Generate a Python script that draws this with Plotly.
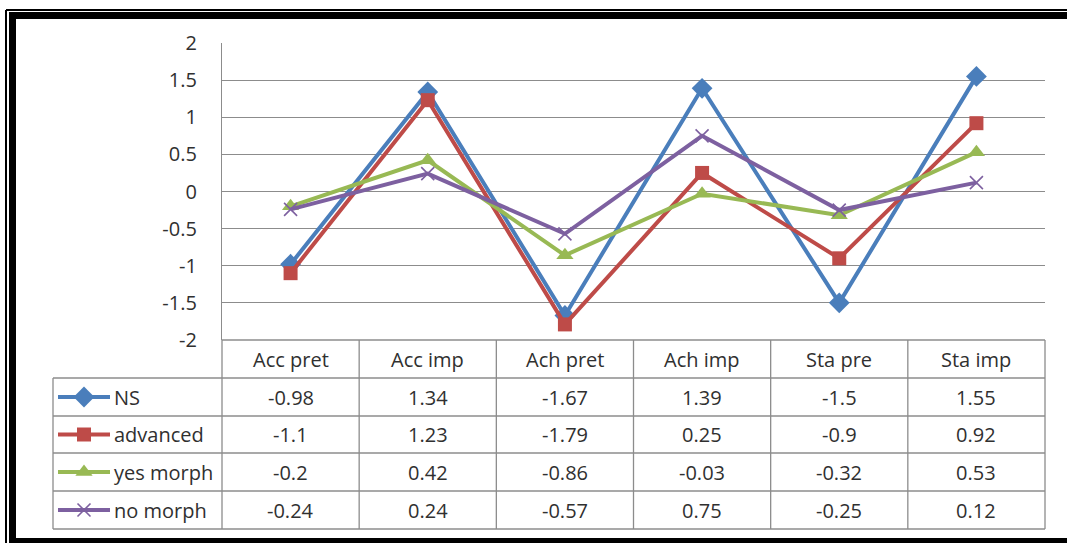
import plotly.graph_objects as go

# Categories and series values
categories = ["Acc pret", "Acc imp", "Ach pret", "Ach imp", "Sta pre", "Sta imp"]
series_names = ["NS", "advanced", "yes morph", "no morph"]
ns = [-0.98, 1.34, -1.67, 1.39, -1.5, 1.55]
advanced = [-1.1, 1.23, -1.79, 0.25, -0.9, 0.92]
yes_morph = [-0.2, 0.42, -0.86, -0.03, -0.32, 0.53]
no_morph = [-0.24, 0.24, -0.57, 0.75, -0.25, 0.12]
y_ticks = [2, 1.5, 1, 0.5, 0, -0.5, -1, -1.5, -2]

W, H = 1067, 543
FONT = "Open Sans"
FSIZE = 20
TXT = "#303030"
GRID = "#8c8c8c"

styles = [
    dict(color="#4a7ebb", symbol="diamond", size=16, lw=0),
    dict(color="#be4b48", symbol="square", size=14, lw=0),
    dict(color="#98b954", symbol="triangle-up", size=15, lw=0),
    dict(color="#7d60a0", symbol="x-thin", size=13, lw=1.6),
]
values = [ns, advanced, yes_morph, no_morph]

# plot area and table geometry (pixels)
PL, PR, PT, PB = 222, 1045, 43, 340
row_edges = [340, 378, 416, 453, 491, 529]
TL = 53
ncat = len(categories)
col_w = (PR - PL) / ncat
col_edges = [PL + i * col_w for i in range(ncat + 1)]

fig = go.Figure()

for name, vals, st in zip(series_names, values, styles):
    fig.add_trace(go.Scatter(
        x=categories, y=vals, mode="lines+markers", name=name,
        line=dict(color=st["color"], width=4),
        marker=dict(symbol=st["symbol"], size=st["size"], color=st["color"],
                    line=dict(color=st["color"], width=st["lw"])),
        xaxis="x", yaxis="y", showlegend=False, cliponaxis=False,
    ))

# legend keys inside the data table (pixel-space axes)
for i, (name, st) in enumerate(zip(series_names, styles)):
    yc = (row_edges[i + 1] + row_edges[i + 2]) / 2
    fig.add_trace(go.Scatter(
        x=[58, 110], y=[yc, yc], mode="lines",
        line=dict(color=st["color"], width=4),
        xaxis="x2", yaxis="y2", showlegend=False, hoverinfo="skip",
    ))
    fig.add_trace(go.Scatter(
        x=[84], y=[yc], mode="markers",
        marker=dict(symbol=st["symbol"], size=st["size"], color=st["color"],
                    line=dict(color=st["color"], width=st["lw"])),
        xaxis="x2", yaxis="y2", showlegend=False, hoverinfo="skip",
    ))

shapes = []
def hline(x0, x1, y, color=GRID, w=1.3):
    shapes.append(dict(type="line", xref="x2", yref="y2", x0=x0, x1=x1, y0=y, y1=y,
                       line=dict(color=color, width=w)))
def vline(x, y0, y1, color=GRID, w=1.3):
    shapes.append(dict(type="line", xref="x2", yref="y2", x0=x, x1=x, y0=y0, y1=y1,
                       line=dict(color=color, width=w)))

# table grid
hline(PL, PR, row_edges[0])
for y in row_edges[1:]:
    hline(TL, PR, y)
for x in col_edges:
    vline(x, row_edges[0], row_edges[-1])
vline(TL, row_edges[1], row_edges[-1])

# outer frame
shapes.append(dict(type="line", xref="x2", yref="y2", x0=6, x1=W + 5, y0=10, y1=10,
                   line=dict(color="#000", width=2)))
shapes.append(dict(type="line", xref="x2", yref="y2", x0=6, x1=6, y0=10, y1=H + 5,
                   line=dict(color="#000", width=2)))
shapes.append(dict(type="rect", xref="x2", yref="y2", x0=9, x1=W + 5, y0=12, y1=19,
                   fillcolor="#000", line=dict(width=0)))
shapes.append(dict(type="rect", xref="x2", yref="y2", x0=9, x1=16, y0=12, y1=H + 5,
                   fillcolor="#000", line=dict(width=0)))
shapes.append(dict(type="rect", xref="x2", yref="y2", x0=9, x1=W + 5, y0=538, y1=H + 5,
                   fillcolor="#000", line=dict(width=0)))

annotations = []
def text(x, y, s, anchor="center"):
    annotations.append(dict(xref="x2", yref="y2", x=x, y=y, text=s, showarrow=False,
                            xanchor=anchor, yanchor="middle",
                            font=dict(family=FONT, size=FSIZE, color=TXT)))

for j, cat in enumerate(categories):
    xc = (col_edges[j] + col_edges[j + 1]) / 2
    text(xc, (row_edges[0] + row_edges[1]) / 2, cat)
for i, (name, vals) in enumerate(zip(series_names, values)):
    yc = (row_edges[i + 1] + row_edges[i + 2]) / 2
    text(112, yc, name, anchor="left")
    for j, v in enumerate(vals):
        xc = (col_edges[j] + col_edges[j + 1]) / 2
        text(xc, yc, str(v))

fig.update_layout(
    template="none",
    width=W, height=H,
    margin=dict(l=0, r=0, t=0, b=0, pad=0, autoexpand=False),
    paper_bgcolor="white", plot_bgcolor="rgba(0,0,0,0)",
    xaxis=dict(domain=[PL / W, PR / W], range=[-0.5, ncat - 0.5], showticklabels=False,
               showgrid=False, zeroline=False, showline=False, automargin=False, ticks=""),
    yaxis=dict(domain=[1 - PB / H, 1 - PT / H], range=[-2, 2],
               tickvals=y_ticks, ticktext=[f"{t:g}" for t in y_ticks],
               showgrid=True, gridcolor=GRID, gridwidth=1.3, zeroline=False,
               showline=True, linecolor=GRID, linewidth=1.3, automargin=False,
               ticks="", ticklabelstandoff=20,
               tickfont=dict(family=FONT, size=FSIZE, color=TXT)),
    xaxis2=dict(domain=[0, 1], range=[0, W], visible=False, anchor="y2", automargin=False),
    yaxis2=dict(domain=[0, 1], range=[H, 0], visible=False, anchor="x2", automargin=False),
    shapes=shapes, annotations=annotations,
)

fig.write_html("out.html", post_script="document.body.style.margin='0';")
